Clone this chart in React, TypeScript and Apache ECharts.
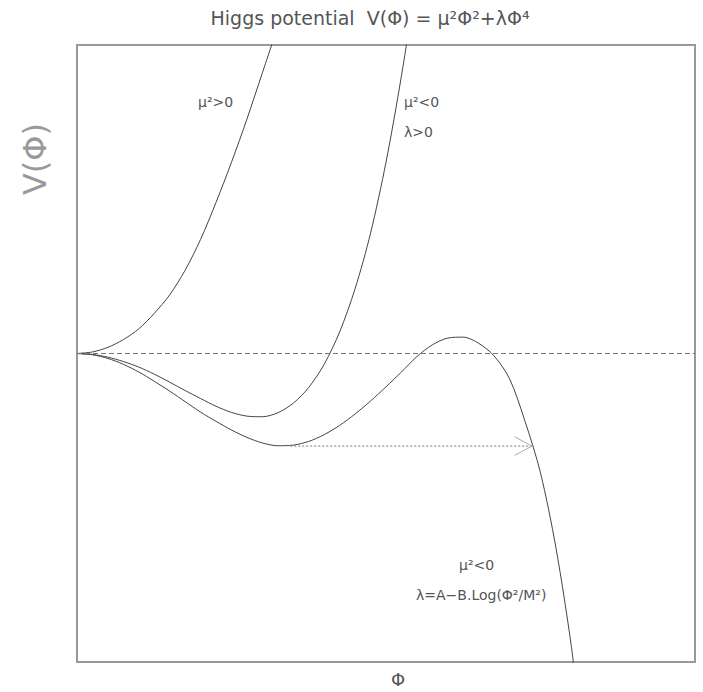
import React, { useEffect, useRef } from "react";
import * as echarts from "echarts";

// axis ranges (arbitrary units)
const xRange = [0, 10];
const yRange = [-10, 10];

// mu^2 > 0
const curvePositive = [
  [0, 0], [0.25, 0.05], [0.5, 0.2], [0.75, 0.45], [1, 0.8], [1.25, 1.3], [1.5, 1.9],
  [1.75, 2.7], [2, 3.7], [2.25, 4.9], [2.5, 6.2], [2.75, 7.6], [3, 9.1], [3.25, 10.6],
];
// mu^2 < 0, lambda > 0
const curveNegative = [
  [0, 0], [0.25, -0.03], [0.5, -0.12], [0.75, -0.26], [1, -0.44], [1.25, -0.67], [1.5, -0.93],
  [1.75, -1.2], [2, -1.46], [2.25, -1.71], [2.5, -1.91], [2.75, -2.03], [3, -2.05],
  [3.25, -1.92], [3.5, -1.61], [3.75, -1.1], [4, -0.35], [4.25, 0.7], [4.5, 2.1],
  [4.75, 3.9], [5, 6.2], [5.25, 9.0], [5.5, 12.2],
];
// mu^2 < 0, lambda = A - B.Log(...)
const curveLog = [
  [0, 0], [0.25, -0.04], [0.5, -0.16], [0.75, -0.35], [1, -0.6], [1.25, -0.9], [1.5, -1.22],
  [1.75, -1.56], [2, -1.9], [2.25, -2.2], [2.5, -2.48], [2.75, -2.72], [3, -2.9], [3.25, -2.99],
  [3.5, -2.97], [3.75, -2.85], [4, -2.63], [4.25, -2.33], [4.5, -1.96], [4.75, -1.54],
  [5, -1.08], [5.25, -0.6], [5.5, -0.1], [5.75, 0.28], [6, 0.5], [6.25, 0.53], [6.5, 0.33],
  [6.75, -0.08], [7, -0.82], [7.25, -2.2], [7.5, -3.87], [7.75, -6.3], [8, -9.5], [8.1, -11.3],
];
// tunnelling arrow
const tunnelLine = [[3.45, -3.0], [7.36, -3.0]];
const arrowHead = [[7.085, -2.7], [7.36, -3.0], [7.085, -3.3]];

const titleText = "Higgs potential  V(Φ) = μ²Φ²+λΦ⁴";
const xName = "Φ";
const yName = "V(Φ)";
const labelPos = "μ²>0";
const labelNeg1 = "μ²<0";
const labelNeg2 = "λ>0";
const labelLog1 = "μ²<0";
const labelLog2 = "λ=A−B.Log(Φ²/M²)";

const FONT = "DejaVu Sans";

export default function App() {
  const ref = useRef<HTMLDivElement>(null);
  useEffect(() => {
    if (!ref.current) return;
    const chart = echarts.init(ref.current, null, { renderer: "svg" });
    const curveStyle = { color: "#444", width: 1 };
    const txt = (text: string, x: number, y: number, size: number, extra: any = {}) => ({
      type: "text",
      x,
      y,
      rotation: extra.rotation || 0,
      style: {
        text,
        fontFamily: FONT,
        fontSize: size,
        fill: extra.fill || "#555",
        textAlign: extra.align || "left",
        textVerticalAlign: "middle",
      },
    });
    chart.setOption({
      animation: false,
      backgroundColor: "#fff",
      grid: {
        left: 77,
        top: 45,
        right: 8,
        bottom: 30,
        show: true,
        borderColor: "#999",
        borderWidth: 2,
        backgroundColor: "transparent",
      },
      xAxis: {
        type: "value",
        min: xRange[0],
        max: xRange[1],
        axisLine: { show: false },
        axisTick: { show: false },
        axisLabel: { show: false },
        splitLine: { show: false },
      },
      yAxis: {
        type: "value",
        min: yRange[0],
        max: yRange[1],
        axisLine: { show: false },
        axisTick: { show: false },
        axisLabel: { show: false },
        splitLine: { show: false },
      },
      series: [
        {
          type: "line",
          data: curvePositive,
          smooth: 0.3,
          showSymbol: false,
          lineStyle: curveStyle,
          markLine: {
            silent: true,
            symbol: "none",
            label: { show: false },
            lineStyle: { color: "#777", type: [5, 3], width: 1 },
            data: [{ yAxis: 0 }],
          },
        },
        {
          type: "line",
          data: curveNegative,
          smooth: 0.3,
          showSymbol: false,
          lineStyle: curveStyle,
        },
        {
          type: "line",
          data: curveLog,
          smooth: 0.3,
          showSymbol: false,
          lineStyle: curveStyle,
        },
        {
          type: "line",
          data: tunnelLine,
          showSymbol: false,
          lineStyle: { color: "#777", width: 1, type: [2, 2] },
        },
        {
          type: "line",
          data: arrowHead,
          showSymbol: false,
          lineStyle: { color: "#aaa", width: 1 },
        },
      ],
      graphic: [
        txt(titleText, 370, 18, 19, { align: "center" }),
        txt(xName, 398, 679, 18, { align: "center" }),
        txt(yName, 35, 159, 32, { align: "center", rotation: Math.PI / 2, fill: "#999" }),
        txt(labelPos, 198, 102, 14),
        txt(labelNeg1, 404, 102, 14),
        txt(labelNeg2, 404, 132, 14),
        txt(labelLog1, 459, 565, 14),
        txt(labelLog2, 416, 595, 14),
      ],
    });
    return () => chart.dispose();
  }, []);
  return (
    <div
      ref={ref}
      style={{ position: "absolute", left: 0, top: 0, width: 703, height: 692 }}
    />
  );
}
